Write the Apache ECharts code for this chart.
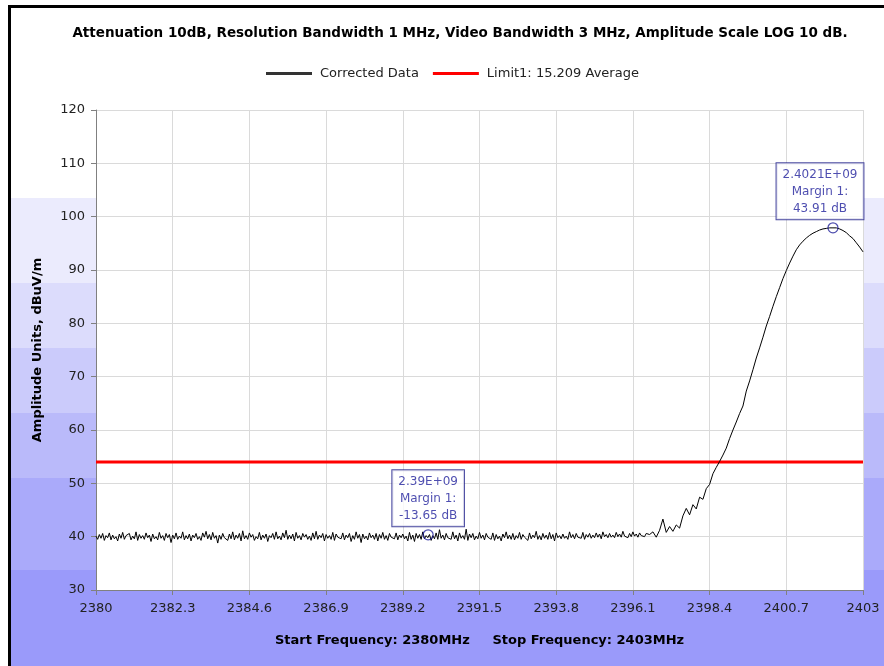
<!DOCTYPE html>
<html>
<head>
<meta charset="utf-8">
<script src="https://cdn.jsdelivr.net/npm/echarts@6/dist/echarts.min.js"></script>
<style>
  html, body { margin: 0; padding: 0; background: #fff; }
  #chart { width: 884px; height: 666px; }
</style>
</head>
<body>
<div id="chart"></div>
<script>
// noise floor 2380.00 .. 2396.50, one reading every 0.05 MHz
const noiseStart = 2380
const noiseStep = 0.05
const noiseAmp = [
  40.1, 39.5, 40.4, 39.7, 40.6, 39.3, 40.2, 39.8, 40.7, 39.4,
  40.3, 39.6, 40.0, 39.2, 40.5, 39.7, 40.8, 39.5, 40.2, 39.9,
  40.6, 39.4, 40.1, 39.6, 40.9, 39.3, 40.4, 39.7, 40.2, 39.5,
  40.7, 39.8, 40.3, 39.1, 40.5, 39.6, 40.0, 39.4, 40.8, 39.7,
  40.2, 39.3, 40.6, 39.8, 40.4, 38.9, 40.3, 39.6, 40.7, 39.5,
  40.1, 39.7, 40.9, 39.4, 40.2, 39.6, 40.5, 39.2, 40.3, 39.8,
  40.6, 39.5, 40.0, 39.3, 40.7, 39.9, 41.0, 39.6, 40.4, 39.4,
  40.8, 39.7, 40.2, 38.8, 40.3, 39.5, 40.6, 39.8, 40.1, 39.3,
  40.5, 39.6, 40.9, 39.4, 40.3, 39.7, 40.6, 39.2, 41.1, 39.6,
  40.2, 39.5, 40.7, 39.9, 40.4, 39.3, 40.0, 39.6, 40.8, 39.4,
  40.3, 39.7, 40.5, 39.1, 40.2, 39.8, 40.6, 39.5, 40.9, 39.6,
  40.1, 39.4, 40.7, 39.8, 41.2, 39.5, 40.3, 39.6, 40.5, 39.2,
  40.8, 39.7, 40.2, 39.4, 40.6, 39.9, 40.4, 39.5, 40.1, 39.3,
  40.7, 39.6, 41.0, 39.5, 40.3, 39.8, 40.6, 39.2, 40.4, 39.7,
  40.2, 39.5, 40.8, 39.3, 40.5, 39.9, 40.1, 39.6, 40.7, 39.4,
  40.3, 39.8, 40.6, 39.1, 40.2, 39.5, 40.9, 39.7, 40.4, 38.9,
  40.5, 39.6, 40.1, 39.4, 40.7, 39.8, 40.3, 39.5, 40.6, 39.2,
  40.4, 39.7, 40.8, 39.5, 40.2, 39.3, 40.6, 39.9, 40.0, 39.6,
  40.7, 39.4, 40.3, 39.8, 40.5, 39.6, 40.1, 39.2, 40.8, 39.5,
  40.3, 39.1, 40.6, 39.7, 40.4, 39.5, 40.9, 39.6, 40.2, 39.8,
  40.4, 39.3, 40.2, 39.6, 40.7, 39.5, 41.3, 39.7, 40.3, 39.4,
  40.6, 39.8, 40.1, 39.5, 40.9, 39.6, 40.3, 39.2, 40.7, 39.7,
  40.2, 39.5, 41.4, 39.3, 40.5, 39.8, 40.6, 39.4, 40.1, 39.6,
  40.8, 39.7, 40.3, 39.4, 40.6, 39.9, 40.2, 39.5, 40.7, 39.3,
  40.4, 39.6, 40.1, 39.2, 40.5, 39.8, 40.9, 39.6, 40.3, 39.5,
  40.6, 39.4, 40.2, 39.7, 40.8, 39.5, 40.4, 39.9, 40.1, 39.3,
  40.7, 39.6, 40.3, 39.8, 41.0, 39.5, 40.2, 39.4, 40.6, 39.7,
  40.3, 39.5, 40.8, 39.6, 40.4, 39.2, 40.7, 39.8, 40.2, 39.6,
  40.5, 39.7, 40.1, 39.5, 40.9, 39.8, 40.4, 39.6, 40.6, 39.9,
  40.2, 39.7, 40.8, 39.5, 40.4, 39.9, 40.6, 39.7, 40.3, 39.8,
  40.7, 39.9, 40.5, 39.6, 40.9, 40.0, 40.4, 39.8, 40.6, 39.9,
  40.3, 39.8, 40.8, 40.0, 40.5, 39.9, 41.0, 40.1, 40.4, 39.8,
  40.6, 40.0, 40.9, 40.1, 40.5, 39.9, 40.7, 40.2, 40.4, 40.0,
  40.6
]

// carrier edge 2396.6 .. 2403.0, one reading every 0.1 MHz
const carrierStart = 2396.6
const carrierStep = 0.1
const carrierAmp = [
  40.4, 40.9, 39.9, 41.2, 43.3, 40.8, 41.9, 41.0, 42.2, 41.6,
  43.9, 45.3, 44.1, 46.0, 45.2, 47.4, 47.0, 49.0, 49.8, 51.8,
  53.0, 54.1, 55.3, 56.6, 58.4, 60.0, 61.5, 63.1, 64.5, 67.3,
  69.2, 71.3, 73.5, 75.4, 77.4, 79.5, 81.3, 83.2, 85.0, 86.7,
  88.4, 89.9, 91.3, 92.6, 93.8, 94.7, 95.4, 96.0, 96.5, 96.9,
  97.2, 97.5, 97.7, 97.8, 97.9, 97.9, 97.9, 97.7, 97.4, 97.0,
  96.4, 95.9, 95.1, 94.3, 93.4
]

const limitFreq = [2380, 2403]
const limitAmp = [54, 54]

const markerFreq = [2389.96, 2402.1]
const markerAmp = [40.35, 97.91]
const markerText = [
  '2.39E+09\nMargin 1:\n-13.65 dB',
  '2.4021E+09\nMargin 1:\n43.91 dB'
]

const yTicks = [30, 40, 50, 60, 70, 80, 90, 100, 110, 120]

const chart = echarts.init(document.getElementById('chart'))

const traceData = noiseAmp
  .map((v, i) => [+(noiseStart + i * noiseStep).toFixed(2), v])
  .concat(carrierAmp.map((v, i) => [+(carrierStart + i * carrierStep).toFixed(2), v]))
const limitData = limitFreq.map((f, i) => [f, limitAmp[i]])
const markerOffsets = [[0, 0], [-13, 0]]
const markerData = markerFreq.map((f, i) => ({
  value: [f, markerAmp[i]],
  label: { formatter: markerText[i], offset: markerOffsets[i] }
}))

// background bands of the panel
const bands = [
  [198, 283, '#ebebfd'],
  [283, 348, '#dcdcfc'],
  [348, 413, '#cbcbfb'],
  [413, 478, '#babafa'],
  [478, 570, '#aaaafa'],
  [570, 666, '#9a9afa']
]
const bgGraphics = bands.map(b => ({
  type: 'rect',
  shape: { x: 11, y: b[0], width: 873, height: b[1] - b[0] },
  style: { fill: b[2] },
  z: -10,
  silent: true
}))
bgGraphics.push(
  { type: 'rect', shape: { x: 8, y: 5, width: 876, height: 3 }, style: { fill: '#000' }, z: -9, silent: true },
  { type: 'rect', shape: { x: 8, y: 5, width: 3, height: 661 }, style: { fill: '#000' }, z: -9, silent: true }
)

chart.setOption({
  animation: false,
  backgroundColor: '#fff',
  textStyle: { fontFamily: 'DejaVu Sans' },
  graphic: bgGraphics,
  title: {
    text: 'Attenuation 10dB, Resolution Bandwidth 1 MHz, Video Bandwidth 3 MHz, Amplitude Scale LOG 10 dB.',
    left: 455,
    textAlign: 'center',
    top: 21,
    textStyle: { fontSize: 13.5, fontWeight: 'bold', color: '#000', fontFamily: 'DejaVu Sans' }
  },
  legend: {
    left: 261,
    top: 62,
    icon: 'rect',
    itemWidth: 46,
    itemHeight: 3,
    itemGap: 14,
    textStyle: { fontSize: 13, color: '#222', padding: [0, 0, 0, 3] },
    data: [
      { name: 'Corrected Data', itemStyle: { color: '#333' } },
      { name: 'Limit1: 15.209 Average', itemStyle: { color: '#ff0000' } }
    ]
  },
  grid: {
    left: 96,
    right: 21,
    top: 110,
    bottom: 76,
    show: true,
    backgroundColor: '#fff',
    borderWidth: 0
  },
  xAxis: {
    type: 'value',
    min: 2380,
    max: 2403,
    interval: 2.3,
    name: 'Start Frequency: 2380MHz     Stop Frequency: 2403MHz',
    nameLocation: 'middle',
    nameGap: 44,
    nameTextStyle: { fontSize: 13, fontWeight: 'bold', color: '#000' },
    axisLine: { lineStyle: { color: '#808080', width: 1 } },
    axisTick: { show: true, length: 5, lineStyle: { color: '#808080' } },
    axisLabel: {
      fontSize: 13,
      color: '#222',
      margin: 12,
      formatter: v => String(Math.round(v * 10) / 10)
    },
    splitLine: { show: true, lineStyle: { color: '#dadada', width: 1 } }
  },
  yAxis: {
    type: 'value',
    min: yTicks[0],
    max: yTicks[yTicks.length - 1],
    interval: 10,
    name: 'Amplitude Units, dBuV/m',
    nameLocation: 'middle',
    nameGap: 52,
    nameTextStyle: { fontSize: 13, fontWeight: 'bold', color: '#000' },
    axisLine: { show: true, lineStyle: { color: '#808080', width: 1 } },
    axisTick: { show: true, length: 5, lineStyle: { color: '#808080' } },
    axisLabel: { fontSize: 13, color: '#222', margin: 11 },
    splitLine: { show: true, lineStyle: { color: '#dadada', width: 1 } }
  },
  series: [
    {
      name: 'Corrected Data',
      type: 'line',
      symbol: 'none',
      lineStyle: { color: '#000', width: 1 },
      itemStyle: { color: '#000' },
      data: traceData,
      z: 3
    },
    {
      name: 'Limit1: 15.209 Average',
      type: 'line',
      symbol: 'none',
      lineStyle: { color: '#ff0000', width: 3 },
      itemStyle: { color: '#ff0000' },
      data: limitData,
      z: 2
    },
    {
      name: 'markers',
      type: 'scatter',
      symbol: 'circle',
      symbolSize: 10,
      itemStyle: { color: 'rgba(0,0,0,0)', borderColor: '#1f1f99', borderWidth: 1.2 },
      label: {
        show: true,
        position: 'top',
        distance: 3,
        align: 'center',
        fontSize: 12,
        lineHeight: 17,
        color: '#22229c',
        backgroundColor: '#fff',
        borderColor: '#1e1e8a',
        borderWidth: 1,
        padding: [3, 6, 2, 6]
      },
      data: markerData,
      z: 5
    }
  ]
})
</script>
</body>
</html>
